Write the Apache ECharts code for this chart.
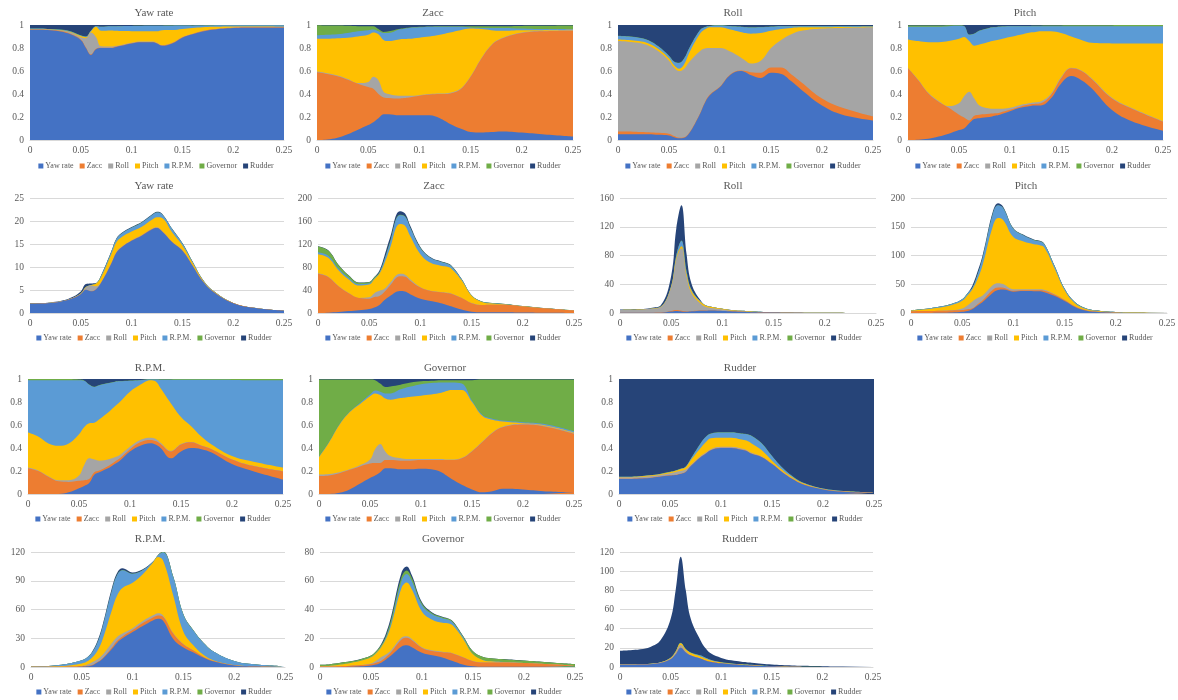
<!DOCTYPE html>
<html><head><meta charset="utf-8">
<script src="https://cdn.jsdelivr.net/npm/echarts@6/dist/echarts.min.js"></script>
<style>html,body{margin:0;padding:0;background:#fff;width:1178px;height:700px;overflow:hidden;position:relative}</style>
</head><body>
<script>
// ---------- shared x grid (frequency) ----------
const X = [0, 0.01, 0.02, 0.03, 0.04, 0.05, 0.055, 0.06, 0.065, 0.07, 0.08, 0.085, 0.09, 0.1, 0.11, 0.12, 0.125, 0.13, 0.14, 0.15, 0.16, 0.17, 0.18, 0.2, 0.22, 0.25];
const SERIES_NAMES = ['Yaw rate', 'Zacc', 'Roll', 'Pitch', 'R.P.M.', 'Governor', 'Rudder'];
const X_TICKS = [0, 0.05, 0.1, 0.15, 0.2, 0.25];

// ---------- Yaw rate: shares of each contribution, and total ----------
const YAW_yaw   = [.96,.96,.955,.945,.92,.87,.80,.74,.79,.80,.80,.81,.82,.84,.85,.85,.84,.82,.84,.89,.92,.945,.96,.975,.978,.978];
const YAW_zacc  = [.002,.002,.002,.003,.005,.005,.005,.005,.005,.003,.003,.003,.003,.003,.003,.003,.003,.003,.004,.004,.003,.003,.003,.003,.003,.003];
const YAW_roll  = [.003,.003,.003,.005,.01,.02,.08,.19,.10,.012,.01,.007,.005,.004,.004,.004,.004,.003,.003,.003,.002,.003,.002,.002,.003,.002];
const YAW_pitch = [.002,.002,.002,.003,.005,.01,.01,.01,.09,.135,.14,.13,.12,.10,.09,.09,.10,.13,.11,.07,.05,.03,.02,.008,.004,.003];
const YAW_rpm   = [.003,.003,.003,.004,.005,.005,.005,.005,.005,.035,.037,.04,.043,.045,.046,.047,.047,.038,.038,.029,.02,.015,.012,.01,.01,.012];
const YAW_gov   = [.001,.001,.001,.001,.001,.001,.001,.001,.001,.001,.001,.001,.001,.001,.001,.001,.001,.001,.001,.001,.001,.001,.001,.001,.001,.001];
const YAW_rud   = [.03,.03,.035,.04,.055,.09,.10,.05,.01,.015,.01,.01,.009,.008,.007,.006,.006,.006,.005,.004,.005,.004,.003,.002,.002,.002];
const YAW_total = [2.1,2.15,2.3,2.6,3.3,4.7,6.3,6.4,6.5,8.2,13.4,16.2,17.4,18.7,19.8,21.4,22.0,21.6,18.3,15.2,11.2,7.3,4.9,2.2,1.15,0.5];

// ---------- Zacc ----------
const ZACC_yaw   = [0,.005,.02,.05,.09,.13,.155,.19,.225,.225,.215,.215,.215,.215,.215,.19,.165,.14,.10,.07,.065,.07,.075,.065,.05,.03];
const ZACC_zacc  = [.59,.57,.535,.475,.40,.33,.29,.21,.145,.14,.145,.15,.155,.17,.18,.21,.235,.265,.34,.48,.635,.75,.805,.865,.895,.92];
const ZACC_roll  = [.005,.005,.005,.005,.005,.045,.105,.12,.05,.035,.025,.02,.015,.005,.005,.005,.005,.005,.005,.005,.005,.005,.005,.005,.005,.005];
const ZACC_pitch = [.285,.30,.325,.36,.405,.41,.385,.40,.45,.46,.49,.493,.495,.50,.50,.51,.52,.525,.51,.415,.26,.13,.065,.02,.005,.003];
const ZACC_rpm   = [.03,.035,.035,.04,.045,.04,.025,.025,.06,.07,.085,.09,.095,.09,.085,.07,.06,.05,.03,.008,.01,.02,.025,.015,.01,.007];
const ZACC_gov   = [.088,.081,.075,.063,.045,.035,.03,.02,.01,.015,.005,.004,.003,.005,.003,.005,.005,.005,.005,.012,.015,.015,.015,.022,.028,.03];
const ZACC_rud   = [.002,.004,.005,.007,.01,.01,.01,.035,.06,.055,.035,.028,.022,.015,.012,.01,.01,.01,.01,.01,.01,.01,.01,.008,.007,.005];
const ZACC_total = [116,109,84,65.5,53,54,62.6,74,100,129,177,173,152,115,97,90,87.5,83,60,31,20,17.4,16.2,12.2,8.7,4.6];

// ---------- Roll ----------
const ROLL_yaw   = [.05,.05,.05,.05,.045,.04,.025,.015,.02,.06,.22,.32,.39,.46,.565,.60,.59,.565,.54,.585,.575,.51,.435,.30,.22,.17];
const ROLL_zacc  = [.025,.023,.02,.018,.017,.015,.01,.005,.005,.005,.005,.005,.005,.005,.005,.005,.01,.025,.045,.045,.055,.06,.065,.06,.06,.035];
const ROLL_roll  = [.785,.782,.775,.752,.708,.635,.595,.58,.595,.615,.545,.47,.405,.335,.2,.115,.09,.075,.105,.17,.24,.35,.45,.61,.695,.775];
const ROLL_pitch = [.015,.015,.015,.02,.02,.02,.02,.02,.04,.08,.15,.165,.18,.18,.19,.22,.24,.26,.24,.15,.095,.055,.03,.01,.007,.005];
const ROLL_rpm   = [.03,.03,.03,.025,.02,.02,.03,.05,.05,.04,.03,.02,.01,.015,.03,.045,.05,.053,.05,.035,.025,.015,.01,.01,.008,.005];
const ROLL_gov   = [.002,.002,.002,.002,.002,.002,.002,.002,.002,.002,.002,.002,.002,.002,.002,.002,.002,.002,.002,.002,.002,.002,.002,.002,.002,.002];
const ROLL_rud   = [.093,.098,.108,.133,.188,.268,.318,.328,.288,.198,.048,.018,.008,.003,.008,.013,.018,.02,.018,.013,.008,.008,.008,.008,.008,.008];
const ROLL_total = [4.7,5,5.5,7,11,52,118,150,82,40,15,10,8.5,6,4,3,2.5,2,1.5,1,.6,.4,.3,.2,.1,.05];

// ---------- Pitch ----------
const PITCH_yaw   = [0,.003,.01,.03,.055,.087,.10,.145,.183,.19,.20,.21,.22,.25,.28,.296,.30,.30,.36,.49,.556,.52,.45,.26,.16,.08];
const PITCH_zacc  = [.623,.517,.395,.303,.225,.133,.095,.025,.027,.03,.028,.022,.018,.012,.01,.014,.015,.02,.03,.045,.067,.08,.08,.10,.11,.08];
const PITCH_roll  = [.004,.005,.005,.007,.015,.10,.185,.25,.15,.08,.047,.04,.034,.018,.015,.012,.013,.015,.01,.01,.005,.005,.007,.008,.007,.005];
const PITCH_pitch = [.248,.335,.44,.51,.565,.56,.515,.44,.46,.53,.58,.593,.603,.615,.61,.613,.612,.61,.545,.385,.272,.265,.308,.472,.563,.675];
const PITCH_rpm   = [.11,.125,.135,.135,.13,.113,.095,.055,.105,.12,.12,.115,.11,.095,.075,.055,.05,.045,.045,.06,.09,.12,.145,.15,.15,.15];
const PITCH_gov   = [.01,.01,.01,.01,.008,.005,.002,.002,.002,.002,.002,.002,.002,.002,.002,.002,.003,.004,.005,.006,.007,.008,.008,.008,.009,.009];
const PITCH_rud   = [.005,.005,.005,.005,.002,.002,.008,.083,.073,.048,.023,.018,.013,.008,.008,.008,.007,.006,.005,.004,.003,.002,.002,.002,.001,.001];
const PITCH_total = [4.7,6.4,8.7,11.7,16,24,34,48,72,101,177,191,185,147.5,136,128,126,121,83,42.5,19,8.7,4.7,1.7,.8,.3];

// ---------- R.P.M. ----------
const RPM_yaw   = [0,0,0,0,.015,.05,.07,.095,.168,.19,.23,.26,.29,.37,.42,.442,.43,.40,.31,.37,.40,.39,.36,.26,.20,.125];
const RPM_zacc  = [.225,.20,.15,.11,.09,.065,.05,.035,.022,.015,.02,.02,.02,.02,.03,.028,.03,.035,.06,.06,.05,.03,.03,.04,.045,.072];
const RPM_roll  = [.005,.005,.005,.01,.015,.045,.13,.18,.11,.085,.055,.04,.03,.02,.02,.02,.02,.01,.005,.005,.002,.002,.002,.002,.002,.002];
const RPM_pitch = [.305,.295,.285,.30,.32,.36,.33,.305,.32,.36,.415,.44,.46,.48,.48,.50,.50,.475,.415,.235,.138,.078,.038,.028,.036,.031];
const RPM_rpm   = [.455,.49,.55,.57,.55,.47,.405,.335,.31,.295,.245,.215,.18,.095,.04,.005,.015,.073,.203,.323,.403,.493,.563,.662,.707,.76];
const RPM_gov   = [.01,.01,.01,.01,.01,.005,.003,.002,.002,.002,.002,.002,.002,.002,.002,.002,.002,.004,.005,.006,.006,.006,.006,.007,.009,.01];
const RPM_rud   = [0,0,0,0,0,.005,.012,.048,.068,.053,.033,.023,.018,.013,.008,.003,.003,.003,.002,.001,.001,.001,.001,.001,.001,0];
const RPM_total = [.4,.7,1.4,2.4,4.2,7,9.8,15.7,26,42,84,98.7,103,98.7,102,110,117,120.7,94.5,55,38,25,16,6.3,2.8,.7];

// ---------- Governor ----------
const GOV_yaw   = [0,0,.01,.04,.09,.14,.16,.19,.225,.225,.215,.215,.215,.22,.215,.19,.16,.13,.08,.04,.015,.025,.045,.04,.025,.015];
const GOV_zacc  = [.155,.16,.17,.17,.15,.125,.11,.08,.07,.07,.075,.075,.075,.075,.08,.105,.135,.165,.23,.33,.435,.505,.535,.565,.565,.51];
const GOV_roll  = [.015,.015,.01,.005,.01,.035,.12,.165,.075,.035,.02,.015,.015,.01,.01,.01,.005,.005,.005,.005,.005,.005,.005,.005,.005,.005];
const GOV_pitch = [.15,.275,.41,.495,.53,.55,.485,.425,.46,.49,.525,.535,.54,.55,.56,.575,.595,.605,.59,.425,.225,.11,.045,.005,.005,.005];
const GOV_rpm   = [.005,.005,.005,.005,.01,.015,.025,.03,.045,.055,.075,.085,.09,.10,.10,.09,.075,.065,.055,.01,.01,.01,.01,.01,.01,.01];
const GOV_gov   = [.67,.54,.39,.28,.205,.13,.09,.07,.055,.06,.04,.035,.035,.025,.02,.02,.02,.02,.03,.18,.305,.34,.355,.37,.385,.45];
const GOV_rud   = [.005,.005,.005,.005,.005,.005,.01,.04,.07,.065,.05,.04,.03,.02,.015,.01,.01,.01,.01,.01,.005,.005,.005,.005,.005,.005];
const GOV_total = [1.5,2,3,4,5.5,8,11,16,24,36,66,70,64,45,38,35,34,32,22,11,7,6,5.5,4.5,3.5,2];

// ---------- Rudder ----------
const RUD_yaw   = [.13,.13,.135,.14,.15,.16,.165,.175,.19,.24,.32,.35,.38,.40,.40,.385,.375,.35,.32,.26,.19,.13,.085,.04,.02,.01];
const RUD_zacc  = [.002,.002,.002,.002,.002,.002,.002,.002,.002,.002,.002,.002,.002,.002,.002,.002,.002,.002,.002,.002,.002,.002,.002,.001,.001,.001];
const RUD_roll  = [.013,.013,.011,.013,.013,.018,.023,.023,.018,.008,.008,.008,.008,.008,.008,.008,.006,.006,.004,.003,.003,.003,.001,.001,0,0];
const RUD_pitch = [.002,.003,.004,.005,.007,.01,.01,.015,.02,.04,.07,.09,.095,.08,.08,.08,.082,.082,.054,.025,.015,.01,.007,.002,.003,.001];
const RUD_rpm   = [.002,.002,.002,.002,.002,.002,.003,.003,.004,.01,.04,.045,.04,.045,.045,.05,.055,.065,.06,.04,.02,.01,.005,.003,.002,.002];
const RUD_gov   = [.001,.001,.001,.001,.001,.001,.001,.001,.001,.001,.001,.001,.001,.001,.001,.001,.001,.001,.001,.001,.001,.001,.001,.001,.001,.001];
const RUD_rud   = [.85,.849,.845,.837,.825,.807,.796,.781,.765,.699,.559,.504,.474,.464,.464,.474,.479,.494,.559,.669,.769,.844,.899,.951,.972,.984];
const RUD_total = [17,17.5,18.5,21,28,50,80,115,80,50,27,19,14,9.5,7,5.5,5,4.5,3.5,2.7,2,1.6,1.3,.9,.6,.4];

// ---------- styling / layout ----------
const COLORS = ['#4472C4', '#ED7D31', '#A5A5A5', '#FFC000', '#5B9BD5', '#70AD47', '#264478'];
const FONT = '"Liberation Serif", "Times New Roman", serif';
const TXT = '#595959';

const PAIRS = {
  yaw:   { shares: [YAW_yaw, YAW_zacc, YAW_roll, YAW_pitch, YAW_rpm, YAW_gov, YAW_rud], total: YAW_total },
  zacc:  { shares: [ZACC_yaw, ZACC_zacc, ZACC_roll, ZACC_pitch, ZACC_rpm, ZACC_gov, ZACC_rud], total: ZACC_total },
  roll:  { shares: [ROLL_yaw, ROLL_zacc, ROLL_roll, ROLL_pitch, ROLL_rpm, ROLL_gov, ROLL_rud], total: ROLL_total },
  pitch: { shares: [PITCH_yaw, PITCH_zacc, PITCH_roll, PITCH_pitch, PITCH_rpm, PITCH_gov, PITCH_rud], total: PITCH_total },
  rpm:   { shares: [RPM_yaw, RPM_zacc, RPM_roll, RPM_pitch, RPM_rpm, RPM_gov, RPM_rud], total: RPM_total },
  gov:   { shares: [GOV_yaw, GOV_zacc, GOV_roll, GOV_pitch, GOV_rpm, GOV_gov, GOV_rud], total: GOV_total },
  rud:   { shares: [RUD_yaw, RUD_zacc, RUD_roll, RUD_pitch, RUD_rpm, RUD_gov, RUD_rud], total: RUD_total }
};

const ROWS = [
  { top: 0,   h: 175, pt: 25,  pb: 140, ty: 13,  ly: 166 },
  { top: 175, h: 175, pt: 198, pb: 313, ty: 186, ly: 338 },
  { top: 355, h: 175, pt: 379, pb: 494, ty: 368, ly: 519 },
  { top: 530, h: 170, pt: 552, pb: 667, ty: 539, ly: 692 }
];

const PANELS = [
  { row: 0, pair: 'yaw',   mode: 'pct', title: 'Yaw rate', tcx: 154,  lcx: 156,  pl: 30,  pr: 284 },
  { row: 0, pair: 'zacc',  mode: 'pct', title: 'Zacc',     tcx: 433,  lcx: 443,  pl: 317, pr: 573 },
  { row: 0, pair: 'roll',  mode: 'pct', title: 'Roll',     tcx: 733,  lcx: 743,  pl: 618, pr: 873 },
  { row: 0, pair: 'pitch', mode: 'pct', title: 'Pitch',    tcx: 1025, lcx: 1033, pl: 908, pr: 1163 },
  { row: 1, pair: 'yaw',   mode: 'abs', title: 'Yaw rate', tcx: 154,  lcx: 154,  pl: 30,  pr: 284,  max: 25,  step: 5 },
  { row: 1, pair: 'zacc',  mode: 'abs', title: 'Zacc',     tcx: 434,  lcx: 443,  pl: 318, pr: 574,  max: 200, step: 40 },
  { row: 1, pair: 'roll',  mode: 'abs', title: 'Roll',     tcx: 733,  lcx: 744,  pl: 620, pr: 876,  max: 160, step: 40 },
  { row: 1, pair: 'pitch', mode: 'abs', title: 'Pitch',    tcx: 1026, lcx: 1035, pl: 911, pr: 1167, max: 200, step: 50 },
  { row: 2, pair: 'rpm',   mode: 'pct', title: 'R.P.M.',   tcx: 150,  lcx: 153,  pl: 28,  pr: 283 },
  { row: 2, pair: 'gov',   mode: 'pct', title: 'Governor', tcx: 445,  lcx: 443,  pl: 319, pr: 574 },
  { row: 2, pair: 'rud',   mode: 'pct', title: 'Rudder',   tcx: 740,  lcx: 745,  pl: 619, pr: 874 },
  { row: 3, pair: 'rpm',   mode: 'abs', title: 'R.P.M.',   tcx: 150,  lcx: 154,  pl: 31,  pr: 285,  max: 120, step: 30 },
  { row: 3, pair: 'gov',   mode: 'abs', title: 'Governor', tcx: 443,  lcx: 444,  pl: 320, pr: 575,  max: 80,  step: 20 },
  { row: 3, pair: 'rud',   mode: 'abs', title: 'Rudderr',  tcx: 740,  lcx: 744,  pl: 620, pr: 873,  max: 120, step: 20 }
];

// Cumulative (stacked) boundaries: 100% stacked (normalised shares) or absolute (share x total).
// ECharts cannot stack on a value x-axis, so the stack tops are accumulated here and each
// boundary is drawn as an area filled down to the axis, topmost layer first.
function buildStackTops(pair, mode) {
  const sums = X.map((_, j) => pair.shares.reduce((s, a) => s + a[j], 0));
  const run = X.map(() => 0);
  return pair.shares.map(arr => X.map((x, j) => {
    run[j] += arr[j] / sums[j];
    const v = mode === 'pct' ? run[j] : run[j] * pair.total[j];
    return [x, +v.toFixed(5)];
  }));
}

PANELS.forEach(p => {
  const row = ROWS[p.row];
  const W = 300;
  const divL = p.lcx - W / 2;
  const div = document.createElement('div');
  div.style.cssText = `position:absolute;left:${divL}px;top:${row.top}px;width:${W}px;height:${row.h}px;`;
  document.body.appendChild(div);
  const chart = echarts.init(div, null, { renderer: 'canvas' });
  const tops = buildStackTops(PAIRS[p.pair], p.mode);
  const isPct = p.mode === 'pct';
  const order = [6, 5, 4, 3, 2, 1, 0];
  chart.setOption({
    animation: false,
    grid: {
      left: p.pl - divL, right: divL + W - p.pr,
      top: row.pt - row.top, bottom: row.top + row.h - row.pb,
      containLabel: false, outerBoundsMode: 'none'
    },
    graphic: [{
      type: 'text', x: p.tcx - divL, y: row.ty - row.top, silent: true,
      style: { text: p.title, font: `11px ${FONT}`, fill: TXT, align: 'center', verticalAlign: 'middle' }
    }],
    legend: {
      data: SERIES_NAMES, left: 'center', top: row.ly - row.top - 4, padding: 0,
      itemWidth: 5, itemHeight: 5, itemGap: 6, icon: 'rect', selectedMode: false,
      textStyle: { color: TXT, fontFamily: FONT, fontSize: 8, padding: [0, 0, 0, -3] }
    },
    xAxis: {
      type: 'value', min: X_TICKS[0], max: X_TICKS[X_TICKS.length - 1], interval: 0.05,
      axisLine: { show: true, lineStyle: { color: '#d9d9d9', width: 1 } },
      axisTick: { show: false }, splitLine: { show: false },
      axisLabel: { color: TXT, fontFamily: FONT, fontSize: 9.5, margin: 5 }
    },
    yAxis: {
      type: 'value', min: 0, max: isPct ? 1 : p.max, interval: isPct ? 0.2 : p.step,
      axisLine: { show: false }, axisTick: { show: false },
      splitLine: { show: true, lineStyle: { color: '#d9d9d9', width: 1 } },
      axisLabel: { color: TXT, fontFamily: FONT, fontSize: 9.5, margin: 6 }
    },
    series: order.map(i => ({
      name: SERIES_NAMES[i], type: 'line', data: tops[i],
      smooth: 0.4, symbol: 'none', showSymbol: false,
      lineStyle: { width: 0, color: COLORS[i] },
      itemStyle: { color: COLORS[i] },
      areaStyle: { color: COLORS[i], opacity: 1, origin: 'start' },
      emphasis: { disabled: true }
    }))
  });
});
</script>
</body></html>
